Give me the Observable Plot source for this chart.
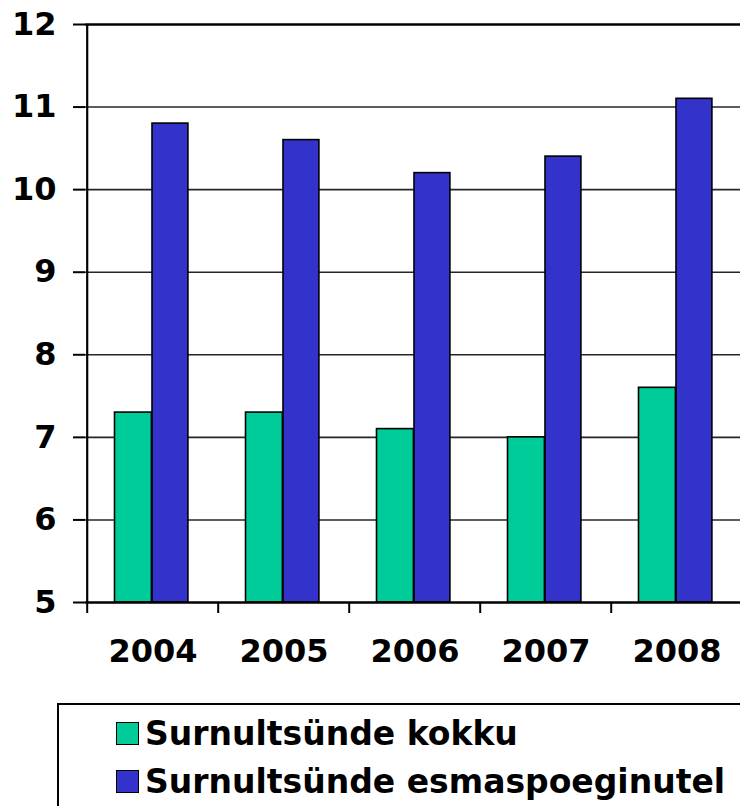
<!DOCTYPE html>
<html>
<head>
<meta charset="utf-8">
<script src="https://cdn.jsdelivr.net/npm/d3@7"></script>
<script src="https://cdn.jsdelivr.net/npm/@observablehq/plot@0.6"></script>
<style>
  html, body { margin: 0; padding: 0; overflow: hidden; background: #fff; width: 740px; height: 806px; }
  body { font-family: "DejaVu Sans", Verdana, sans-serif; font-weight: bold; position: relative; }
  #legend { position: absolute; left: 57px; top: 703px; width: 720px; height: 130px; border: 2px solid #000; box-sizing: border-box; }
  .item { position: absolute; left: 57px; display: flex; align-items: center; font-size: 33px; white-space: nowrap; }
  .sw { width: 23px; height: 23px; border: 1.5px solid #000; margin-right: 6px; box-sizing: border-box; }
</style>
</head>
<body>
<div id="chart"></div>
<div id="legend"></div>
<script>
const years = ["2004", "2005", "2006", "2007", "2008"];
const seriesNames = ["Surnultsünde kokku", "Surnultsünde esmaspoeginutel"];
const kokku = [7.3, 7.3, 7.1, 7.0, 7.6];
const esmas = [10.8, 10.6, 10.2, 10.4, 11.1];
const yTicks = [5, 6, 7, 8, 9, 10, 11, 12];
const colors = ["#00CC99", "#3333CC"];

const W = 740, H = 690, ML = 85, MR = -3;
const band = (W - ML - MR) / years.length;

const dataK = years.map((y, i) => ({year: y, value: kokku[i]}));
const dataE = years.map((y, i) => ({year: y, value: esmas[i]}));

const chart = Plot.plot({
  width: W,
  height: H,
  marginLeft: ML,
  marginRight: MR,
  marginTop: 24,
  marginBottom: 88,
  style: {fontFamily: "DejaVu Sans, Verdana, sans-serif", fontWeight: "bold", fontSize: "32px", color: "#000", background: "#fff", overflow: "visible"},
  x: {type: "band", domain: years, padding: 0, label: null},
  y: {domain: [5, 12], label: null},
  marks: [
    Plot.ruleY(yTicks.filter(t => t > 5 && t < 12), {stroke: "#000", strokeWidth: 1.6, strokeOpacity: 0.85}),
    Plot.ruleY([12], {stroke: "#000", strokeWidth: 2.5}),
    Plot.barY(dataK, {x: "year", y1: () => 5, y2: "value", fill: colors[0], stroke: "#000", strokeWidth: 1.6, insetLeft: 27.5, insetRight: band - 65}),
    Plot.barY(dataE, {x: "year", y1: () => 5, y2: "value", fill: colors[1], stroke: "#000", strokeWidth: 1.6, insetLeft: 65, insetRight: band - 101.5}),
    Plot.axisY({ticks: yTicks, tickSize: 12, tickPadding: 17, tickFormat: d => String(d), fontSize: 32, fontWeight: "bold", strokeWidth: 2, label: null}),
    Plot.ruleX([5], {x: () => years[0], dx: -band / 2, stroke: "#000", strokeWidth: 2.2}),
    Plot.axisX({tickSize: 11, tickFormat: () => "", dx: -band / 2, strokeWidth: 2, label: null}),
    Plot.axisX({tickSize: 0, tickPadding: 37, fontSize: 32, fontWeight: "bold", label: null}),
    Plot.ruleY([5], {stroke: "#000", strokeWidth: 2.5})
  ]
});
document.getElementById("chart").appendChild(chart);

const legend = document.getElementById("legend");
seriesNames.forEach((name, i) => {
  const item = document.createElement("div");
  item.className = "item";
  item.style.top = (i === 0 ? 9 : 57) + "px";
  const sw = document.createElement("span");
  sw.className = "sw";
  sw.style.background = colors[i];
  const t = document.createElement("span");
  t.textContent = name;
  item.appendChild(sw);
  item.appendChild(t);
  legend.appendChild(item);
});
</script>
</body>
</html>
